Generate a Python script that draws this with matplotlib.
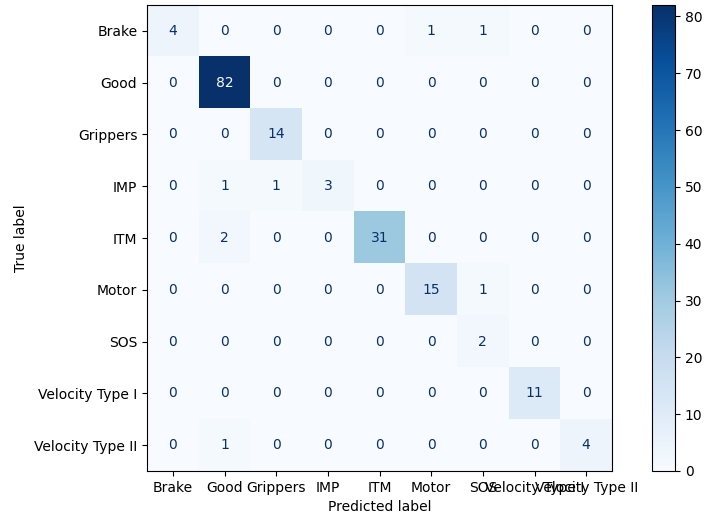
import numpy as np
import matplotlib
matplotlib.use("Agg")
import matplotlib.pyplot as plt

labels = ["Brake", "Good", "Grippers", "IMP", "ITM", "Motor", "SOS",
          "Velocity Type I", "Velocity Type II"]

row_brake = [4, 0, 0, 0, 0, 1, 1, 0, 0]
row_good = [0, 82, 0, 0, 0, 0, 0, 0, 0]
row_grippers = [0, 0, 14, 0, 0, 0, 0, 0, 0]
row_imp = [0, 1, 1, 3, 0, 0, 0, 0, 0]
row_itm = [0, 2, 0, 0, 31, 0, 0, 0, 0]
row_motor = [0, 0, 0, 0, 0, 15, 1, 0, 0]
row_sos = [0, 0, 0, 0, 0, 0, 2, 0, 0]
row_vel1 = [0, 0, 0, 0, 0, 0, 0, 11, 0]
row_vel2 = [0, 1, 0, 0, 0, 0, 0, 0, 4]

cm = np.array([row_brake, row_good, row_grippers, row_imp, row_itm,
               row_motor, row_sos, row_vel1, row_vel2])

W, H = 706, 516
fig = plt.figure(figsize=(W / 100, H / 100), dpi=100)
ax = fig.add_axes([147 / W, (H - 471) / H, 465 / W, 466 / H])
cax = fig.add_axes([652 / W, (H - 471) / H, 23 / W, 466 / H])

cmap = plt.get_cmap("Blues")
im = ax.imshow(cm, interpolation="nearest", cmap=cmap, aspect="auto")
fig.colorbar(im, cax=cax)

thresh = (cm.max() + cm.min()) / 2.0
for i in range(cm.shape[0]):
    for j in range(cm.shape[1]):
        color = cmap(1.0) if cm[i, j] < thresh else cmap(0.0)
        ax.text(j, i, format(cm[i, j], "d"), ha="center", va="center", color=color)

ax.set_xticks(np.arange(len(labels)))
ax.set_yticks(np.arange(len(labels)))
ax.set_xticklabels(labels)
ax.set_yticklabels(labels)
ax.set_xlabel("Predicted label")
ax.set_ylabel("True label")
ax.set_ylim(len(labels) - 0.5, -0.5)

fig.savefig("out.png", dpi=100)
